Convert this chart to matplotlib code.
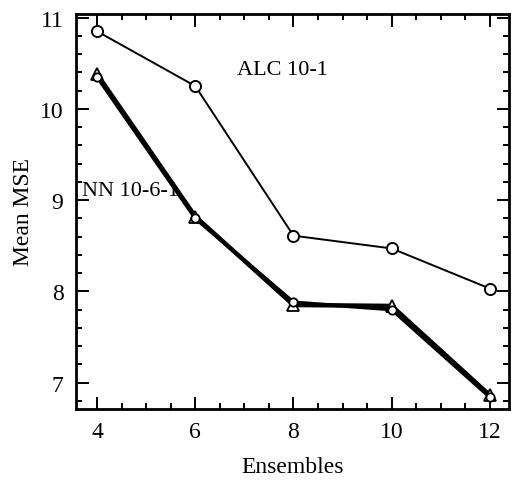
import matplotlib
matplotlib.use("Agg")
import matplotlib.pyplot as plt
from matplotlib.ticker import MultipleLocator

plt.rcParams['font.family'] = ['Liberation Serif', 'DejaVu Serif']

ensembles = [4, 6, 8, 10, 12]
alc_mse = [10.85, 10.25, 8.61, 8.47, 8.03]
nn_mse_a = [10.38, 8.82, 7.85, 7.84, 6.86]
nn_mse_b = [10.35, 8.80, 7.88, 7.80, 6.84]
x_ticks = [4, 6, 8, 10, 12]
y_ticks = [7, 8, 9, 10, 11]

fig = plt.figure(figsize=(5.28, 4.81), dpi=100)
ax = fig.add_axes([76/528, 1-410/481, (509-76)/528, (410-15)/481])

ax.plot(ensembles, alc_mse, color='black', lw=1.4, marker='o', ms=8,
        mfc='white', mec='black', mew=1.4, zorder=3)
ax.plot(ensembles, nn_mse_a, color='black', lw=3.2, marker='^', ms=8,
        mfc='white', mec='black', mew=1.3, zorder=3)
ax.plot(ensembles, nn_mse_b, color='black', lw=2.6, marker='o', ms=6,
        mfc='white', mec='black', mew=1.3, zorder=3)

ax.text(6.85, 10.43, 'ALC 10-1', fontsize=16, va='center', ha='left')
ax.text(3.70, 9.1, 'NN 10-6-1', fontsize=16, va='center', ha='left', zorder=2)

ax.set_xlim(3.57, 12.39)
ax.set_ylim(6.71, 11.04)
ax.set_xticks(x_ticks)
ax.set_yticks(y_ticks)
ax.xaxis.set_minor_locator(MultipleLocator(0.5))
ax.yaxis.set_minor_locator(MultipleLocator(0.2))
ax.tick_params(which='both', direction='in', top=True, right=True, width=1.4)
ax.tick_params(which='major', length=9, labelsize=17, pad=9)
ax.tick_params(which='minor', length=4)
for s in ax.spines.values():
    s.set_linewidth(2.0)

ax.set_xlabel('Ensembles', fontsize=17, labelpad=10)
ax.set_ylabel('Mean MSE', fontsize=17, labelpad=4)

fig.savefig('out.png', dpi=100)
